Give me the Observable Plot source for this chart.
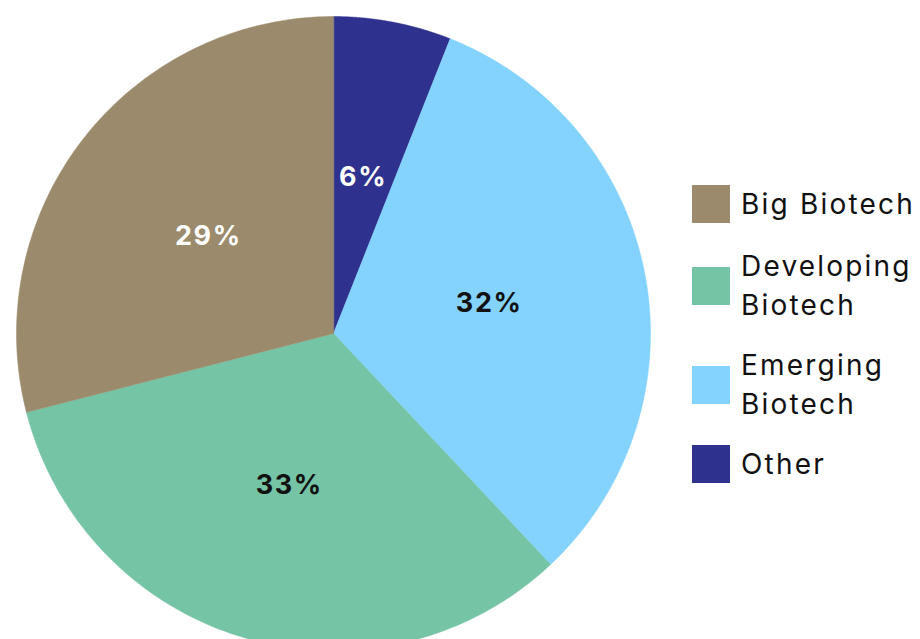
<!DOCTYPE html>
<html>
<head>
<meta charset="utf-8">
<script src="https://cdn.jsdelivr.net/npm/d3@7"></script>
<script src="https://cdn.jsdelivr.net/npm/@observablehq/plot@0.6"></script>
<style>
  html, body { margin: 0; padding: 0; background: #fff; overflow: hidden; }
  #wrap { position: relative; width: 920px; height: 639px; font-family: Inter, "Noto Sans", sans-serif; }
  #legend { position: absolute; left: 692px; top: 185px; }
  .row { position: absolute; left: 0; display: flex; align-items: center; white-space: nowrap; }
  .sw { width: 38px; height: 38px; flex: none; }
  .lab { margin-left: 11px; font-size: 28px; line-height: 39px; color: #111; letter-spacing: 2.2px; }
  .pct { letter-spacing: 1.6px; }
</style>
</head>
<body>
<div id="wrap"></div>
<script>
// Data (pie order, clockwise from 12 o'clock)
const categories = ["Other", "Emerging Biotech", "Developing Biotech", "Big Biotech"];
const values = [6, 32, 33, 29];
const colors = ["#2E318D", "#84D3FF", "#74C4A5", "#9C8A6C"];
const labelColors = ["#ffffff", "#111111", "#111111", "#ffffff"];
const legendOrder = ["Big Biotech", "Developing Biotech", "Emerging Biotech", "Other"];
const legendLabels = [["Big Biotech"], ["Developing", "Biotech"], ["Emerging", "Biotech"], ["Other"]];

const arcs = d3.pie().sort(null).value(d => d)(values);

// slice outlines (unit circle coordinates derived from the pie angles)
const slicePts = [];
arcs.forEach((a, i) => {
  slicePts.push({cat: categories[i], x: 0, y: 0});
  const n = 120;
  for (let k = 0; k <= n; k++) {
    const t = a.startAngle + (a.endAngle - a.startAngle) * k / n;
    slicePts.push({cat: categories[i], x: Math.sin(t), y: Math.cos(t)});
  }
});

const labels = arcs.map((a, i) => {
  const m = (a.startAngle + a.endAngle) / 2;
  return {text: values[i] + "%", x: 0.5 * Math.sin(m), y: 0.5 * Math.cos(m), color: labelColors[i]};
});

const chart = Plot.plot({
  width: 920,
  height: 639,
  x: {domain: [-1, 1], range: [16, 650], axis: null},
  y: {domain: [-1, 1], range: [650, 16], axis: null},
  color: {domain: categories, range: colors},
  style: {background: "transparent", overflow: "hidden"},
  marks: [
    Plot.line(slicePts, {x: "x", y: "y", z: "cat", fill: "cat", stroke: "cat", strokeWidth: 0.5, curve: "linear-closed"}),
    Plot.text(labels, {x: "x", y: "y", text: "text", fill: d => d.color, fontSize: 27, fontWeight: "bold", fontFamily: "Inter, 'Noto Sans', sans-serif", className: "pct"})
  ]
});

const wrap = document.getElementById("wrap");
wrap.appendChild(chart);

const legend = document.createElement("div");
legend.id = "legend";
const rowTops = [0, 82, 181, 260];
legendOrder.forEach((c, i) => {
  const row = document.createElement("div");
  row.className = "row";
  const lines = legendLabels[i];
  const h = lines.length * 39;
  row.style.top = (rowTops[i] - (h - 38) / 2) + "px";
  const sw = document.createElement("div");
  sw.className = "sw";
  sw.style.background = colors[categories.indexOf(c)];
  const lab = document.createElement("div");
  lab.className = "lab";
  lab.innerHTML = lines.join("<br>");
  row.appendChild(sw);
  row.appendChild(lab);
  legend.appendChild(row);
});
wrap.appendChild(legend);
</script>
</body>
</html>
